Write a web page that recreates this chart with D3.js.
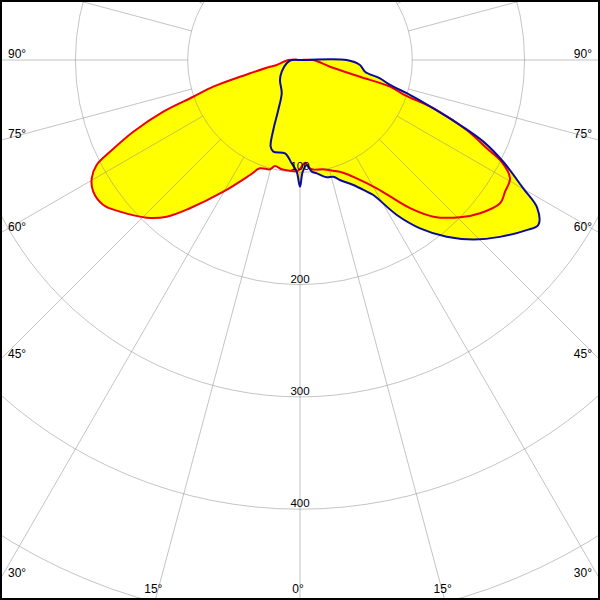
<!DOCTYPE html>
<html><head><meta charset="utf-8">
<script src="https://cdn.jsdelivr.net/npm/d3@7"></script>
<style>html,body{margin:0;padding:0;background:#fff}svg{display:block}</style>
</head><body>
<script>
// C0-C180 plane (red), angles in degrees (0 = down, + = right), values in cd/klm
const redAngles = [-90, -77.9, -77.4, -75.1, -74.4, -72.9, -71.0, -69.3, -66.7, -64.2, -62.7, -60.4, -57.5, -53.6, -49.9, -44.2, -40.4, -36.6, -30.2, -23.5, -20.3, -15.3, -13.3, -9.5, -5.2, -1.0, 2.8, 4.4, 6.1, 11.9, 16.6, 20.9, 25.6, 30.9, 36.6, 40.4, 45.5, 49.6, 54.4, 57.3, 60.6, 63.2, 64.7, 67.2, 69.9, 71.6, 73.5, 74.4, 77.4, 90, 180];
const redValues = [10.4, 21.2, 27.4, 46.1, 55.5, 80.8, 100.5, 130.1, 161.6, 187.9, 203.8, 213.3, 218.3, 217.6, 209.6, 195.8, 183.2, 164.4, 135.7, 111.7, 102.8, 100.9, 97.0, 98.7, 99.0, 98.6, 91.5, 95.3, 97.9, 99.5, 102.9, 107.4, 116.8, 133.1, 164.4, 183.2, 199.8, 210.5, 219.1, 217, 214.6, 201.2, 183.9, 161, 129.6, 96.9, 83.6, 55.5, 27.4, 11.8, 0];
// C90-C270 plane (blue)
const blueAngles = [-90, -76.1, -57.4, -45, -28.8, -23.5, -20.9, -18.7, -16.2, -9.1, -4.6, -1.7, 0, 1.4, 3.7, 6.0, 8.4, 12.8, 15.9, 18.4, 23.1, 26.9, 28.5, 32.0, 35.5, 39.7, 44.0, 48.5, 53.1, 55.3, 58.1, 60.1, 63.4, 66.0, 67.9, 70.1, 72.7, 74.5, 77.1, 79.8, 85.2, 90, 180];
const blueValues = [7.4, 12.2, 19.3, 25.2, 33.8, 48.5, 66.7, 81.5, 85, 84.2, 92.3, 99.5, 112.8, 99.5, 93.7, 100, 102, 107.1, 108.1, 112.6, 121, 131.5, 136.8, 162.7, 184.1, 204.5, 222.1, 237.7, 252.3, 258.1, 248.7, 229.3, 202.4, 178.7, 153.8, 126.3, 99.5, 83.2, 73.1, 58.8, 53.6, 41.6, 0];

const circleValues = [100, 200, 300, 400, 500, 600];
const radiusLabels = [100, 200, 300, 400];
const spokeAngles = d3.range(0, 360, 15);
const leftAngleLabels = [90, 75, 60, 45, 30];
const bottomAngleLabels = [15, 0];

const W = 600, H = 600, cx = 300, cy = 60;
const r = d3.scaleLinear().domain([0, 100]).range([0, 112.3]);
const toRad = d => d * Math.PI / 180;

const svg = d3.select("body").append("svg").attr("width", W).attr("height", H);
svg.append("rect").attr("width", W).attr("height", H).attr("fill", "#fff");
const g = svg.append("g").attr("transform", `translate(${cx},${cy})`);

const line = d3.lineRadial()
  .angle(d => Math.PI - toRad(d[0]))
  .radius(d => r(d[1]))
  .curve(d3.curveCatmullRomClosed.alpha(0.5));
const redData = redAngles.map((a, i) => [a, redValues[i]]);
const blueData = blueAngles.map((a, i) => [a, blueValues[i]]);

// fills
g.append("path").attr("d", line(redData)).attr("fill", "#ffff00");
g.append("path").attr("d", line(blueData)).attr("fill", "#ffff00");

// grid
const grid = g.append("g").attr("fill", "none").attr("stroke", "#8a8a8a").attr("stroke-opacity", 0.5).attr("stroke-width", 1);
grid.selectAll("circle").data(circleValues).join("circle").attr("r", d => r(d));
grid.selectAll("line").data(spokeAngles).join("line")
  .attr("x1", d => r(100) * Math.sin(toRad(d)))
  .attr("y1", d => r(100) * Math.cos(toRad(d)))
  .attr("x2", d => r(1000) * Math.sin(toRad(d)))
  .attr("y2", d => r(1000) * Math.cos(toRad(d)));

// curves
g.append("path").attr("d", line(redData)).attr("fill", "none").attr("stroke", "#ee0000").attr("stroke-width", 2).attr("stroke-linejoin", "round");
g.append("path").attr("d", line(blueData)).attr("fill", "none").attr("stroke", "#0a0aa0").attr("stroke-width", 2).attr("stroke-linejoin", "round");

// labels
const font = "'Liberation Sans', Arial, sans-serif";
svg.append("g").selectAll("text").data(radiusLabels).join("text")
  .attr("x", cx).attr("y", d => cy + r(d) - 2)
  .attr("text-anchor", "middle").attr("font-family", font).attr("font-size", 11.5).attr("fill", "#000")
  .text(d => d);

const la = svg.append("g").attr("font-family", font).attr("font-size", 12).attr("fill", "#000");
leftAngleLabels.forEach(d => {
  const yh = cy + (d === 90 ? 0 : cx / Math.tan(toRad(d))) - 2.5;
  la.append("text").attr("x", 8).attr("y", yh).attr("text-anchor", "start").text(d + "°");
  la.append("text").attr("x", 592).attr("y", yh).attr("text-anchor", "end").text(d + "°");
});
bottomAngleLabels.forEach(d => {
  const dx = (H - cy) * Math.tan(toRad(d));
  la.append("text").attr("x", cx - dx - 2).attr("y", 593).attr("text-anchor", "middle").text(d + "°");
  if (d !== 0) la.append("text").attr("x", cx + dx - 2).attr("y", 593).attr("text-anchor", "middle").text(d + "°");
});

// frame
svg.append("rect").attr("x", 1).attr("y", 1).attr("width", W - 2).attr("height", H - 2)
  .attr("fill", "none").attr("stroke", "#000").attr("stroke-width", 2);
</script>
</body></html>
